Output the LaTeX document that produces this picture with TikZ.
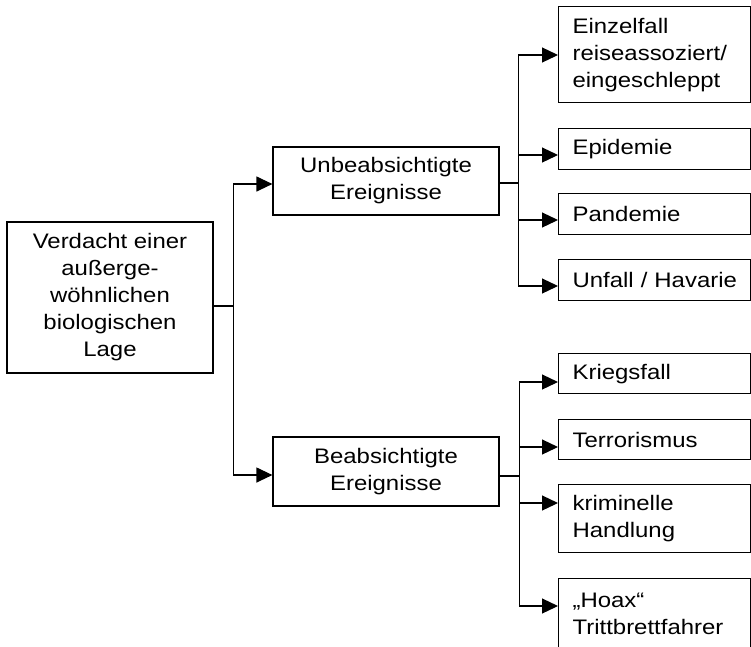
\documentclass[tikz,border=0pt]{standalone}
\usepackage{fontspec}
\setmainfont{Liberation Sans}[FakeStretch=1.14]
\usepackage{tikz}
\usetikzlibrary{arrows.meta}

\tikzset{
  box/.style={draw, line width=1.2pt, inner sep=0pt, align=center},
  leaf/.style={draw, line width=1.2pt, anchor=north west, minimum width=192pt,
    text width=164pt, inner xsep=14pt, inner ysep=0pt, align=left},
}

\begin{document}
\begin{tikzpicture}[x=1pt, y=-1pt, >={Triangle[length=16pt,width=15pt]},
    line width=1.2pt, font=\fontsize{21}{27}\selectfont]
            \useasboundingbox (0,0) rectangle (751,646);
            \clip (0,0) rectangle (751,646);
            %linke Spalte
            \node[box, minimum width=206pt, minimum height=151pt] (lage) at (110,297.5)
                {Verdacht einer\\außerge-\\wöhnlichen\\biologischen\\Lage};
            %mittlere Spalte
            \node[box, minimum width=226pt, minimum height=68pt] (unbeab) at (386,181)
                {Unbeabsichtigte\\Ereignisse};
            \node[box, minimum width=226pt, minimum height=69pt] (beab) at (386,471.5)
                {Beabsichtigte\\Ereignisse};
            %rechte Spalte, oben
            \node[leaf, minimum height=96pt] (einzel) at (558,6)
                {Einzelfall\\reiseassoziert/\\eingeschleppt};
            \node[leaf, minimum height=41pt] (epi) at (558,128) {Epidemie};
            \node[leaf, minimum height=41pt] (pan) at (558,193) {Pandemie};
            \node[leaf, minimum height=41pt] (unfall) at (558,259) {\mbox{Unfall / Havarie}};
            %rechte Spalte, unten
            \node[leaf, minimum height=40pt] (krieg) at (558,353) {Kriegsfall};
            \node[leaf, minimum height=40pt] (terror) at (558,419) {Terrorismus};
            \node[leaf, minimum height=68pt] (krim) at (558,484) {kriminelle\\Handlung};
            \node[leaf, minimum height=70pt] (hoax) at (558,578) {„Hoax“\\Trittbrettfahrer};

            \draw ([yshift=-8.5pt]lage.east) -- ++(20,0) coordinate (j1);
            \draw[->] (j1) |- ([yshift=-3pt]unbeab.west);
            \draw[->] (j1) |- ([yshift=-3.5pt]beab.west);

            \draw ([yshift=-2pt]unbeab.east) -- ++(19,0) coordinate (j2);
            \draw[->] (j2) |- ([yshift=-49pt]einzel.north west);
            \draw[->] (j2) |- ([yshift=-27pt]epi.north west);
            \draw[->] (j2) |- ([yshift=-27pt]pan.north west);
            \draw[->] (j2) |- ([yshift=-27pt]unfall.north west);

            \draw ([yshift=-4.5pt]beab.east) -- ++(20,0) coordinate (j3);
            \draw[->] (j3) |- ([yshift=-29pt]krieg.north west);
            \draw[->] (j3) |- ([yshift=-28pt]terror.north west);
            \draw[->] (j3) |- ([yshift=-19pt]krim.north west);
            \draw[->] (j3) |- ([yshift=-28pt]hoax.north west);
        \end{tikzpicture}
\end{document}
